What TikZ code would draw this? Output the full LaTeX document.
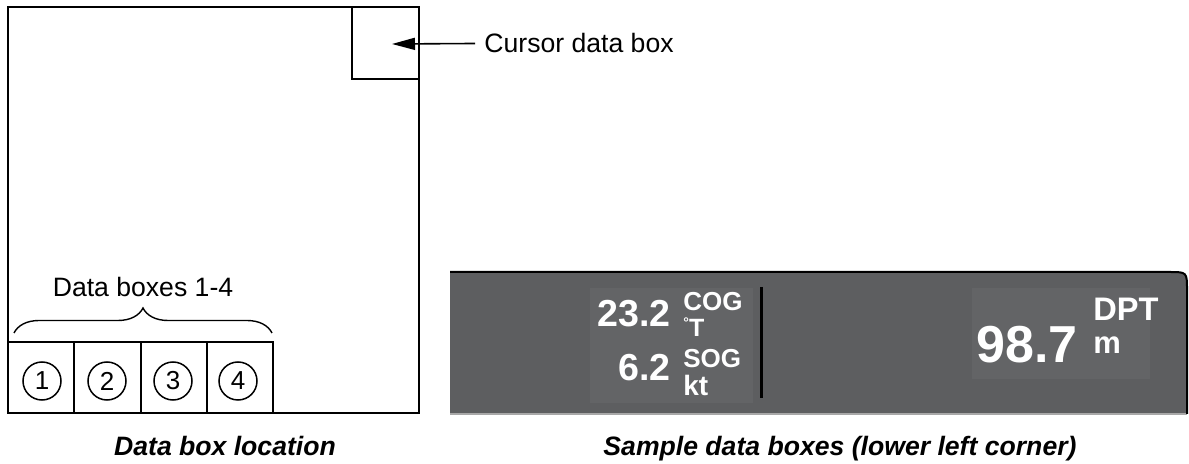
\documentclass[tikz,border=0pt]{standalone}
\usepackage{fontspec}
\setmainfont{Liberation Sans}
\usetikzlibrary{arrows.meta,decorations.pathreplacing}
\definecolor{panelgray}{HTML}{5D5E60}
\definecolor{panelcell}{HTML}{636466}
\definecolor{paneledge}{HTML}{A8A8A8}

\begin{document}
\begin{tikzpicture}[x=0.5pt, y=-0.5pt,
  frame/.style={draw=black, line width=1.3pt},
  cellbox/.style={draw=black, line width=1pt},
  numcirc/.style={draw=black, circle, line width=0.75pt, minimum size=19pt, inner sep=0pt, font=\fontsize{13}{13}\selectfont},
  lbl/.style={font=\fontsize{13.3}{15}\selectfont, inner sep=0pt},
  caption/.style={font=\fontsize{13.3}{15}\selectfont\bfseries\itshape, inner sep=0pt, anchor=base},
  readout/.style={text=white, font=\bfseries, inner sep=0pt},
]
\useasboundingbox (0,0) rectangle (1189,464);

% display screen with the cursor data box in its corner
\draw[frame] (8,7) rectangle (419,413);
\draw[frame] (352,7) rectangle (419,79);
\coordinate (curtip) at (392,44);
\node[lbl, anchor=base west] (curlbl) at (484,53) {Cursor data box};
\draw[line width=0.8pt, -{Triangle[length=11.5pt,width=6pt]}] ([xshift=-4.5pt]curlbl.west) -- (curtip);

% data boxes 1-4 along the bottom edge
\foreach \i/\xa/\xb/\xc in {1/8/74/42, 2/74/141/107, 3/141/207/173, 4/207/273/238} {
  \draw[cellbox] (\xa,342) rectangle (\xb,413);
  \node[numcirc] (db\i) at (\xc,381) {\raisebox{-1.5pt}{\i}};
}
\coordinate (brl) at (14,333);
\coordinate (brr) at (272,333);
\draw[line width=0.7pt, decorate, decoration={brace, amplitude=12.5pt}] (brl) -- (brr);
\node[lbl, anchor=base] (dblbl) at (143,297) {Data boxes 1-4};

% sample data box strip
\fill[panelgray] (450,272) -- (1169,272) .. controls (1187,272) .. (1187,290) -- (1187,414) -- (450,414) -- cycle;
\fill[panelcell] (590,288) rectangle (753,403);
\fill[panelcell] (972,288) rectangle (1150,379);
\draw[paneledge, line width=0.6pt] (450,414) -- (1187,414);
\draw[black, line width=1pt] (450,272) -- (1169,272) .. controls (1187,272) .. (1187,290) -- (1187,414);
\draw[black, line width=1.5pt] (761,287) -- (761,398);

\node[readout, font=\fontsize{18.8}{20}\selectfont\bfseries, anchor=base east] (cogval) at (671,327) {23.2};
\node[readout, font=\fontsize{13}{14}\selectfont\bfseries, anchor=base west] (coglbl) at (683,311) {COG};
\node[readout, font=\fontsize{12.5}{13}\selectfont\bfseries, anchor=base west] (cogunit) at (683,337) {\raisebox{4.5pt}{\fontsize{7}{7}\selectfont °}T};
\node[readout, font=\fontsize{18.8}{20}\selectfont\bfseries, anchor=base east] (sogval) at (671,381) {6.2};
\node[readout, font=\fontsize{13}{14}\selectfont\bfseries, anchor=base west] (soglbl) at (683,368) {SOG};
\node[readout, font=\fontsize{14}{15}\selectfont\bfseries, anchor=base west] (sogunit) at (683,396) {kt};
\node[readout, font=\fontsize{26}{28}\selectfont\bfseries, anchor=base east] (dptval) at (1078,363) {98.7};
\node[readout, font=\fontsize{16.3}{17}\selectfont\bfseries, anchor=base west] (dptlbl) at (1093,321) {DPT};
\node[readout, font=\fontsize{15.5}{16}\selectfont\bfseries, anchor=base west] (dptunit) at (1093,354) {m};

% captions
\node[caption] (capleft) at (225,456) {Data box location};
\node[caption] (capright) at (840,456) {Sample data boxes (lower left corner)};
\end{tikzpicture}
\end{document}
